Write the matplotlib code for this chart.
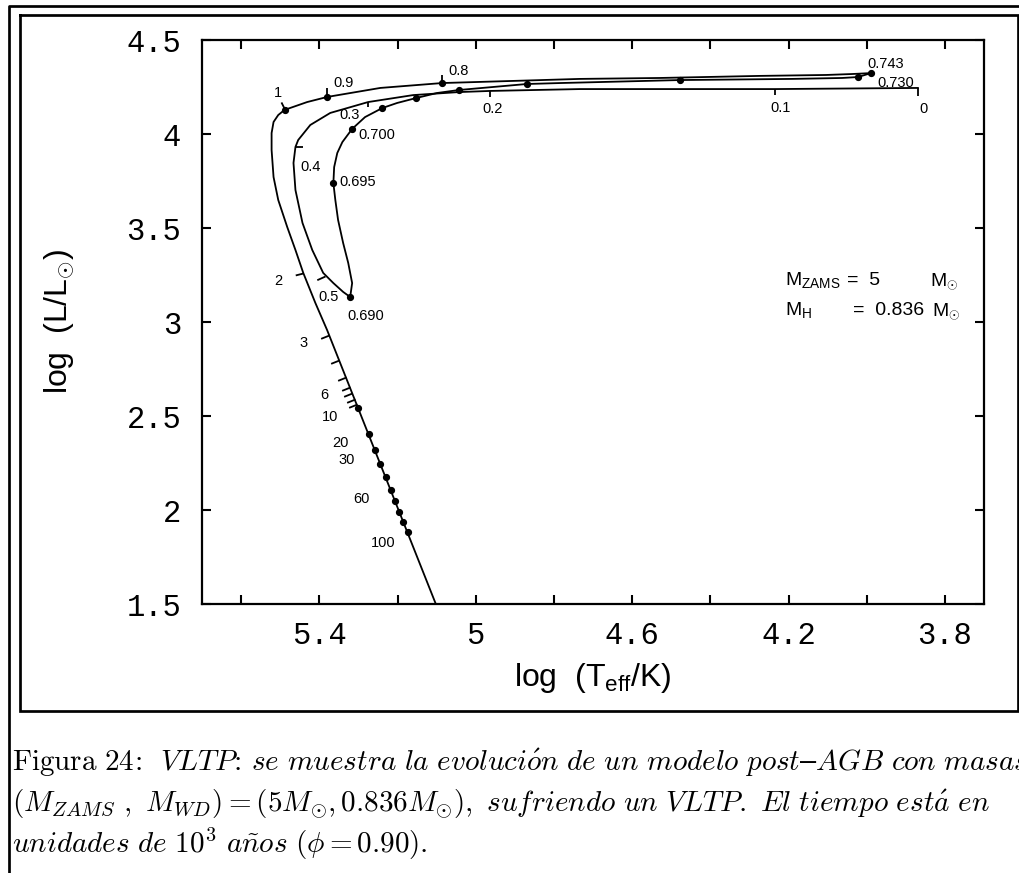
import matplotlib
matplotlib.use('Agg')
import matplotlib.pyplot as plt
from matplotlib.path import Path
from matplotlib.lines import Line2D

# fuentes: sans para la figura, Computer Modern (mathtext) para el pie
plt.rcParams['font.family'] = ['Liberation Sans', 'DejaVu Sans']
plt.rcParams['mathtext.fontset'] = 'custom'
plt.rcParams['mathtext.rm'] = 'Liberation Sans'
plt.rcParams['mathtext.it'] = 'Liberation Sans:italic'
plt.rcParams['mathtext.bf'] = 'Liberation Sans:bold'

# ---- datos (log Teff, log L/Lsun) ----
# primera salida post-AGB: t = 0 ... 0.5, hasta el VLTP (0.690)
logT_postagb = [3.869, 4.234, 4.479, 4.734, 4.964, 5.043, 5.160, 5.275, 5.372, 5.423,
                5.454, 5.461, 5.466, 5.461, 5.443, 5.418, 5.390, 5.364, 5.339, 5.321]
logL_postagb = [4.245, 4.239, 4.239, 4.239, 4.229, 4.223, 4.207, 4.170, 4.112, 4.048,
                3.968, 3.931, 3.846, 3.702, 3.527, 3.383, 3.261, 3.207, 3.160, 3.133]

# born-again tras el VLTP: 0.690 -> 0.743
logT_vltp = [5.321, 5.316, 5.326, 5.339, 5.352, 5.359, 5.364, 5.362, 5.354, 5.341,
             5.316, 5.283, 5.239, 5.201, 5.153, 5.099, 5.043, 4.956, 4.869, 4.785,
             4.477, 4.191, 4.063, 4.022, 3.989]
logL_vltp = [3.133, 3.207, 3.314, 3.420, 3.543, 3.649, 3.739, 3.824, 3.899, 3.957,
             4.027, 4.090, 4.138, 4.165, 4.191, 4.218, 4.234, 4.250, 4.266, 4.271,
             4.287, 4.293, 4.298, 4.303, 4.324]

# segunda salida post-AGB y enfriamiento de enana blanca
logT_return = [3.989, 4.038, 4.104, 4.275, 4.530, 4.734, 5.086, 5.244, 5.380, 5.431,
               5.489, 5.505, 5.517, 5.522, 5.522, 5.517, 5.505, 5.482, 5.461, 5.441,
               5.410, 5.380, 5.102]
logL_return = [4.324, 4.319, 4.314, 4.309, 4.298, 4.293, 4.271, 4.245, 4.197, 4.170,
               4.128, 4.101, 4.064, 4.005, 3.915, 3.771, 3.649, 3.505, 3.383, 3.261,
               3.101, 2.957, 1.500]

# puntos marcados (edades en 10^3 años)
dots_T = [5.321, 5.364, 5.316, 5.239, 5.153, 5.043, 4.869, 4.477, 4.022, 3.989,
          5.086, 5.380, 5.489,
          5.301, 5.274, 5.258, 5.244, 5.230, 5.217, 5.206, 5.195, 5.185, 5.174]
dots_L = [3.133, 3.739, 4.027, 4.138, 4.191, 4.234, 4.266, 4.287, 4.303, 4.324,
          4.271, 4.197, 4.128,
          2.543, 2.404, 2.319, 2.245, 2.176, 2.106, 2.048, 1.989, 1.936, 1.883]

# marcas de tiempo pequeñas: posición y dirección del trazo
tick_T = [3.869, 4.234, 4.964, 5.275, 5.461, 5.385,
          5.489, 5.380, 5.086, 5.441,
          5.374, 5.349, 5.332, 5.322, 5.316, 5.309, 5.304]
tick_L = [4.245, 4.239, 4.229, 4.170, 3.931, 3.245,
          4.128, 4.197, 4.271, 3.261,
          2.931, 2.798, 2.707, 2.654, 2.622, 2.590, 2.564]
tick_dir = [(0, -1), (0, -1), (0, -1), (0, -1), (1, 0), (-1, -0.45),
            (-0.5, 1), (0, 1), (0, 1), (-1, -0.25),
            (-1, -0.4), (-1, -0.4), (-1, -0.4), (-1, -0.4), (-1, -0.4), (-1, -0.4), (-1, -0.4)]
tick_len = [8, 6, 6, 5, 8, 9,
            9, 9, 8, 8,
            9, 9, 9, 9, 9, 9, 9]

age_labels = ['0', '0.1', '0.2', '0.3', '0.4', '0.5', '0.690', '0.695', '0.700',
              '0.730', '0.743', '0.8', '0.9', '1', '2', '3', '6', '10', '20', '30', '60', '100']
age_T = [3.854, 4.221, 4.956, 5.323, 5.423, 5.377, 5.280, 5.301, 5.252,
         3.926, 3.951, 5.045, 5.339, 5.505, 5.505, 5.441, 5.387, 5.372, 5.346, 5.329, 5.293, 5.237]
age_L = [4.133, 4.138, 4.133, 4.101, 3.824, 3.133, 3.032, 3.745, 3.995,
         4.271, 4.372, 4.335, 4.271, 4.218, 3.218, 2.888, 2.612, 2.495, 2.356, 2.266, 2.059, 1.824]

xticks = [5.6, 5.4, 5.2, 5.0, 4.8, 4.6, 4.4, 4.2, 4.0, 3.8]
xticklabels = ['', '5.4', '', '5', '', '4.6', '', '4.2', '', '3.8']
yticks = [1.5, 2.0, 2.5, 3.0, 3.5, 4.0, 4.5]
yticklabels = ['1.5', '2', '2.5', '3', '3.5', '4', '4.5']

W, H = 1019, 873
fig = plt.figure(figsize=(W / 100, H / 100), dpi=100)
ax = fig.add_axes([202 / W, 1 - 604 / H, 782 / W, 564 / H])

lw = 1.3
ax.plot(logT_postagb, logL_postagb, color='black', lw=lw, solid_joinstyle='round')
ax.plot(logT_vltp, logL_vltp, color='black', lw=lw, solid_joinstyle='round')
ax.plot(logT_return, logL_return, color='black', lw=lw, solid_joinstyle='round')
ax.plot(dots_T, dots_L, 'o', color='black', ms=4.2, ls='none')

for T, L, (dx, dy), n in zip(tick_T, tick_L, tick_dir, tick_len):
    m = max(abs(dx), abs(dy))
    dx, dy = dx / m, dy / m
    norm = (dx ** 2 + dy ** 2) ** 0.5
    ms = 2 * n * 0.72 / norm
    ax.plot([T], [L], marker=Path([(0, 0), (dx, dy)]), ms=ms,
            mec='black', mfc='none', mew=1.3, ls='none')

for s, T, L in zip(age_labels, age_T, age_L):
    ax.text(T, L, s, fontsize=10.5, ha='center', va='center')

# masas del modelo
ax.text(0.7455, 0.5656, r'M$_{\rm ZAMS}$', transform=ax.transAxes, fontsize=14, va='baseline')
ax.text(0.825, 0.5656, '=  5', transform=ax.transAxes, fontsize=14, va='baseline')
ax.text(0.931, 0.5656, r'M$_{\odot}$', transform=ax.transAxes, fontsize=14, va='baseline')
ax.text(0.7455, 0.5124, r'M$_{\rm H}$', transform=ax.transAxes, fontsize=14, va='baseline')
ax.text(0.8325, 0.5124, '=  0.836', transform=ax.transAxes, fontsize=14, va='baseline')
ax.text(0.9335, 0.5124, r'M$_{\odot}$', transform=ax.transAxes, fontsize=14, va='baseline')

ax.set_xlim(5.7, 3.7)
ax.set_ylim(1.5, 4.5)
ax.set_xticks(xticks)
ax.set_xticklabels(xticklabels, fontfamily='Liberation Mono', fontsize=22)
ax.set_yticks(yticks)
ax.set_yticklabels(yticklabels, fontfamily='Liberation Mono', fontsize=22)
ax.tick_params(direction='in', length=6.5, width=1.5, top=True, right=True)
ax.tick_params(axis='x', pad=12)
ax.tick_params(axis='y', pad=15)
for sp in ax.spines.values():
    sp.set_linewidth(1.6)

ax.set_xlabel(r'log  (T$_{\rm eff}$/K)', fontsize=23)
ax.xaxis.set_label_coords(0.5, -0.1312)
ax.xaxis.label.set_va('center')
ax.set_ylabel(r'log  (L/L$_{\odot}$)', fontsize=23)
ax.yaxis.set_label_coords(-0.183, 0.5)
ax.yaxis.label.set_va('center')

# marcos de la página
fl = 1.95
fig.add_artist(Line2D([8.5 / W, 8.5 / W, 1.01], [0, 1 - 5.5 / H, 1 - 5.5 / H],
                      transform=fig.transFigure, color='black', lw=fl))
bx = [19.5 / W, 1017.5 / W, 1017.5 / W, 19.5 / W, 19.5 / W]
by = [1 - 14.5 / H, 1 - 14.5 / H, 1 - 711 / H, 1 - 711 / H, 1 - 14.5 / H]
fig.add_artist(Line2D(bx, by, transform=fig.transFigure, color='black', lw=fl,
                      solid_joinstyle='miter'))

# pie de figura
cap1 = (r'$\mathrm{Figura\ 24}\!:\!\ \ \mathit{VLTP}\!:\!\ \mathit{se\ muestra\ la\ evoluci\acute{o}n\ de\ un'
        r'\ modelo\ post}$–$\mathit{AGB\ con\ masas}$')
cap2 = (r'$(M_{ZAMS}\ ,\ M_{WD})=(5M_{\odot},0.836M_{\odot}),\ \mathit{sufriendo\ un\ VLTP.'
        r'\ El\ tiempo\ est\acute{a}\ en}$')
cap3 = r'$\mathit{unidades\ de\ }10^{3}\ \mathit{a\tilde{n}os}\ \mathit{(}\phi=0.90\mathit{).}$'
for s, yb in zip([cap1, cap2, cap3], [771, 812, 853]):
    fig.text(12 / W, 1 - yb / H, s, fontsize=21, math_fontfamily='cm', va='baseline', ha='left')

fig.savefig('out.png', dpi=100)
